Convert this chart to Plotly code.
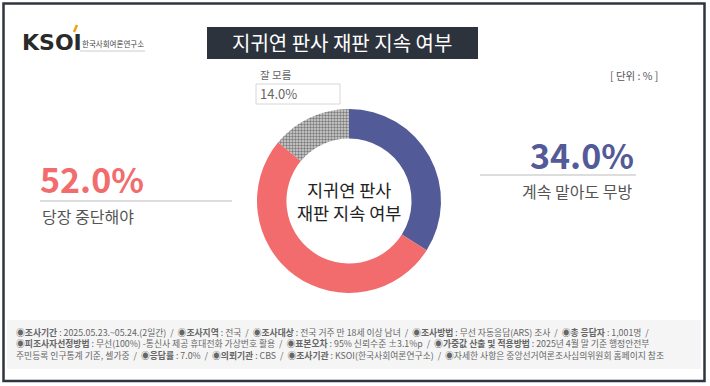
import plotly.graph_objects as go

W, H = 710, 386

# ---- data ----
labels = ["계속 맡아도 무방", "당장 중단해야", "잘 모름"]
values = [34.0, 52.0, 14.0]
colors = ["#535a98", "#f26b6d", "#c8c8c8"]
title_text = "지귀연 판사 재판 지속 여부"
center_lines = ["지귀연 판사", "재판 지속 여부"]
unit_text = "[ 단위 : % ]"
logo_text = "KSOI"
logo_sub = "한국사회여론연구소"
footer_lines = [
    "◉<b>조사기간</b> : 2025.05.23.~05.24.(2일간)  /  ◉<b>조사지역</b> : 전국  /  ◉<b>조사대상</b> : 전국 거주 만 18세 이상 남녀  /  ◉<b>조사방법</b> : 무선 자동응답(ARS) 조사  /  ◉<b>총 응답자</b> : 1,001명  /",
    "◉<b>피조사자선정방법</b> : 무선(100%) -통신사 제공 휴대전화 가상번호 활용  /  ◉<b>표본오차</b> : 95% 신뢰수준 ±3.1%p  /  ◉<b>가중값 산출 및 적용방법</b> : 2025년 4월 말 기준 행정안전부",
    "주민등록 인구통계 기준, 셀가중  /  ◉<b>응답률</b> : 7.0%  /  ◉<b>의뢰기관</b> : CBS  /  ◉<b>조사기관</b> : KSOI(한국사회여론연구소)  /  ◉자세한 사항은 중앙선거여론조사심의위원회 홈페이지 참조",
]

FONT = "Noto Sans CJK KR"


def X(px):
    return px / W


def Y(py):
    return 1 - py / H


# donut geometry (pixels)
cx, cy, r = 349, 201, 92

fig = go.Figure()
fig.add_trace(go.Pie(
    labels=labels,
    values=values,
    hole=0.68,
    sort=False,
    direction="clockwise",
    rotation=0,
    textinfo="none",
    hoverinfo="skip",
    showlegend=False,
    marker=dict(
        colors=colors,
        line=dict(width=0),
        pattern=dict(
            shape=["", "", "."],
            fgcolor=["#535a98", "#f26b6d", "#7c7c7c"],
            bgcolor=["#535a98", "#f26b6d", "#d4d4d4"],
            size=3,
            solidity=0.5,
        ),
    ),
    domain=dict(x=[X(cx - r), X(cx + r)], y=[Y(cy + r), Y(cy - r)]),
))

shapes = []
ann = []

# outer frame
shapes.append(dict(type="rect", xref="paper", yref="paper",
                   x0=X(3.5), x1=X(704.5), y0=Y(381), y1=Y(3.5),
                   line=dict(color="#2e3440", width=2.5), fillcolor="rgba(0,0,0,0)", layer="above"))

# title bar
shapes.append(dict(type="rect", xref="paper", yref="paper",
                   x0=X(207), x1=X(478), y0=Y(59), y1=Y(27),
                   line=dict(width=0), fillcolor="#2c333c", layer="below"))
ann.append(dict(text=title_text, x=X(342), y=Y(43), xanchor="center", yanchor="middle",
                font=dict(family=FONT, size=20, color="white")))

# logo
ann.append(dict(text="<b>" + logo_text + "</b>", x=X(20), y=Y(43), xanchor="left", yanchor="middle",
                font=dict(family="DejaVu Sans", size=22, color="#2a2a2a")))
shapes.append(dict(type="line", xref="paper", yref="paper",
                   x0=X(74), y0=Y(32), x1=X(77), y1=Y(25),
                   line=dict(color="#f0a020", width=2.5)))
ann.append(dict(text=logo_sub, x=X(80), y=Y(44), xanchor="left", yanchor="middle",
                font=dict(family=FONT, size=7.5, color="#444")))
shapes.append(dict(type="line", xref="paper", yref="paper",
                   x0=X(80), y0=Y(51), x1=X(145), y1=Y(51),
                   line=dict(color="#cccccc", width=1)))

# unit
ann.append(dict(text=unit_text, x=X(660), y=Y(75), xanchor="right", yanchor="middle",
                font=dict(family=FONT, size=10.5, color="#555")))

# left label (당장 중단해야)
ann.append(dict(text=f"<b>{values[1]:.1f}%</b>", x=X(38), y=Y(178), xanchor="left", yanchor="middle",
                font=dict(family=FONT, size=34, color=colors[1])))
shapes.append(dict(type="line", xref="paper", yref="paper",
                   x0=X(40), y0=Y(201), x1=X(232), y1=Y(201),
                   line=dict(color="#bbbbbb", width=1)))
ann.append(dict(text=labels[1], x=X(40), y=Y(216), xanchor="left", yanchor="middle",
                font=dict(family=FONT, size=16, color="#555")))

# right label (계속 맡아도 무방)
ann.append(dict(text=f"<b>{values[0]:.1f}%</b>", x=X(636), y=Y(154), xanchor="right", yanchor="middle",
                font=dict(family=FONT, size=34, color=colors[0])))
shapes.append(dict(type="line", xref="paper", yref="paper",
                   x0=X(480), y0=Y(175), x1=X(636), y1=Y(175),
                   line=dict(color="#bbbbbb", width=1)))
ann.append(dict(text=labels[0], x=X(634), y=Y(191), xanchor="right", yanchor="middle",
                font=dict(family=FONT, size=16, color="#555")))

# top label (잘 모름)
shapes.append(dict(type="rect", xref="paper", yref="paper",
                   x0=X(256), x1=X(340), y0=Y(104), y1=Y(84),
                   line=dict(color="#d6d6d6", width=1), fillcolor="rgba(0,0,0,0)"))
ann.append(dict(text=labels[2], x=X(258), y=Y(74), xanchor="left", yanchor="middle",
                font=dict(family=FONT, size=10.5, color="#666")))
ann.append(dict(text=f"{values[2]:.1f}%", x=X(258), y=Y(94), xanchor="left", yanchor="middle",
                font=dict(family=FONT, size=13, color="#666")))

# center text
ann.append(dict(text="<br>".join(center_lines), x=X(cx), y=Y(cy), xanchor="center", yanchor="middle",
                font=dict(family=FONT, size=17.5, color="#222")))

# footer
shapes.append(dict(type="rect", xref="paper", yref="paper",
                   x0=X(7), x1=X(701), y0=Y(369), y1=Y(320),
                   line=dict(width=0), fillcolor="#f5f5f5", layer="below"))
ann.append(dict(text="<br>".join(footer_lines), x=X(14), y=Y(344), xanchor="left", yanchor="middle",
                align="left", font=dict(family=FONT, size=8.8, color="#666")))

for a in ann:
    a.update(xref="paper", yref="paper", showarrow=False)

fig.update_layout(
    width=W, height=H,
    margin=dict(l=0, r=0, t=0, b=0),
    paper_bgcolor="white",
    plot_bgcolor="white",
    shapes=shapes,
    annotations=ann,
)

fig.write_html("out.html", config={"displayModeBar": False},
               post_script="document.body.style.margin='0';")
